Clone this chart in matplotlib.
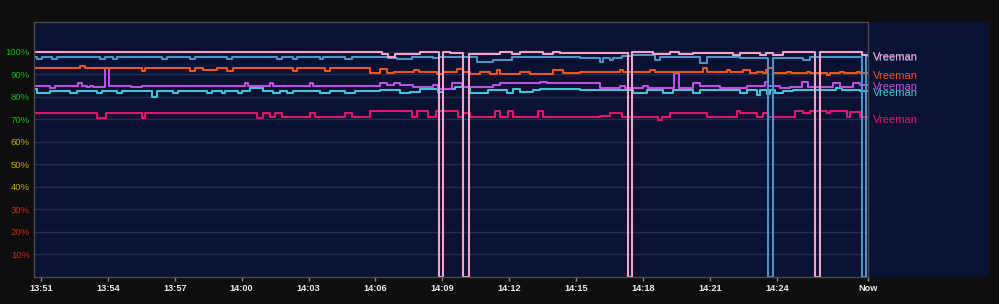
import numpy as np
import matplotlib.pyplot as plt

# x values are minutes after 13:51, y values are percent
now_minute = 37.09
start_minute = -0.31

tick_minutes = [0, 3, 6, 9, 12, 15, 18, 21, 24, 27, 30, 33, now_minute]
tick_labels = ['13:51', '13:54', '13:57', '14:00', '14:03', '14:06', '14:09',
               '14:12', '14:15', '14:18', '14:21', '14:24', 'Now']
pct_ticks = [10, 20, 30, 40, 50, 60, 70, 80, 90, 100]
pct_tick_colors = ['#cc2a0c', '#cc2a0c', '#cc2a0c', '#bfae00', '#bfae00', '#bfae00',
                   '#12b812', '#12b812', '#12b812', '#12b812']

# series as step change points (time, value)
pink_t = [-0.31, 15.29, 15.56, 15.87, 17.00, 17.85, 18.03, 18.34, 18.92, 19.19, 20.58,
          21.12, 21.48, 22.51, 22.96, 23.27, 26.32, 26.50, 27.44, 28.21, 28.61, 29.24,
          31.03, 31.35, 32.24, 32.51, 32.83, 33.27, 34.71, 34.93, 36.82]
pink_v = [100, 99.2, 97.6, 99.2, 100, 0, 100, 99.4, 0, 99.2, 100,
          99.2, 100, 99.2, 100, 99.4, 0, 99.8, 99.2, 100, 99.2, 99.4,
          98.6, 99.4, 98.8, 99.4, 98.8, 99.8, 0, 99.8, 98.8]

blue_t = [-0.31, -0.18, 0.04, 0.49, 0.72, 2.65, 2.87, 3.23, 3.41, 5.43, 5.65, 6.68, 6.91,
          8.34, 8.57, 10.58, 10.81, 11.30, 11.48, 12.51, 12.65, 13.63, 13.95, 15.56, 15.96,
          16.64, 17.58, 17.85, 19.24, 19.55, 20.27, 21.12, 24.17, 25.07, 25.20, 25.52, 25.65,
          26.05, 26.50, 27.53, 27.76, 29.55, 29.87, 31.35, 32.60, 32.83, 34.17, 34.48, 35.83,
          36.82, 37.00]
blue_v = [97.9, 96.7, 97.9, 96.7, 97.9, 96.7, 97.9, 96.7, 97.9, 96.7, 97.9, 96.7, 97.9,
          96.7, 97.9, 96.7, 97.9, 96.7, 97.9, 96.7, 97.9, 96.7, 97.9, 97.4, 96.7,
          97.9, 97.2, 97.9, 97.6, 95.7, 96.6, 97.9, 97.4, 95.7, 97.1, 96.4, 97.1,
          98.3, 98.6, 96.4, 97.9, 95.1, 97.9, 97.4, 0, 97.2, 96.4, 97.6, 97.9,
          0, 98.3]

orange_t = [-0.31, 1.75, 1.97, 4.53, 4.66, 6.68, 6.91, 7.26, 7.89, 8.34, 8.61, 11.30, 11.48,
            12.74, 12.96, 14.75, 15.20, 15.52, 15.82, 16.72, 16.95, 17.78, 18.03, 18.65, 18.92,
            19.24, 19.69, 20.13, 20.45, 20.58, 21.48, 21.93, 22.96, 23.40, 24.17, 25.96, 26.10,
            27.31, 27.53, 29.69, 29.87, 30.76, 30.90, 31.48, 31.79, 32.11, 32.38, 32.51, 32.60,
            32.83, 33.45, 33.65, 34.35, 34.50, 35.25, 35.38, 35.83, 36.00, 36.60, 36.73]
orange_v = [92.9, 93.9, 92.9, 91.7, 92.9, 91.7, 92.9, 91.9, 92.9, 91.7, 92.9, 91.7, 92.9,
            91.7, 92.9, 90.5, 92.3, 90.5, 91.2, 92.0, 91.2, 90.2, 91.2, 92.3, 91.2,
            90.2, 91.2, 90.2, 92.0, 90.2, 91.2, 90.2, 91.9, 90.5, 91.0, 92.0, 91.0,
            92.0, 91.0, 93.0, 91.0, 92.0, 91.0, 92.0, 90.6, 91.3, 90.6, 91.9, 92.8,
            90.5, 91.2, 90.5, 91.2, 90.5, 89.6, 90.5, 91.2, 90.5, 91.2, 90.5]

purple_t = [-0.31, 0.40, 0.62, 1.66, 1.84, 2.06, 2.20, 2.33, 2.87, 3.05, 4.03, 4.53, 9.15,
            9.28, 10.27, 10.40, 12.06, 12.20, 15.20, 15.52, 15.82, 16.10, 16.68, 17.58, 17.80,
            18.43, 18.88, 19.38, 20.27, 20.58, 21.48, 22.38, 22.69, 25.07, 25.96, 26.19, 27.00,
            27.22, 28.39, 28.61, 29.24, 29.55, 30.45, 31.66, 32.47, 32.60, 33.14, 33.59, 34.13,
            34.39, 35.52, 35.83, 36.41, 36.73]
purple_v = [84.9, 83.9, 84.9, 86.1, 84.9, 84.3, 84.9, 84.3, 92.7, 84.9, 84.3, 84.9, 86.1,
            84.9, 86.1, 84.9, 86.1, 84.9, 86.4, 85.3, 86.4, 85.3, 84.3, 85.3, 83.4,
            86.4, 84.6, 84.3, 85.3, 86.1, 86.4, 86.8, 86.1, 83.9, 84.9, 83.9, 84.9,
            83.9, 90.5, 83.9, 86.1, 84.9, 83.9, 84.9, 86.8, 84.9, 83.9, 84.6, 86.8,
            84.6, 86.1, 84.6, 86.1, 85.5]

cyan_t = [-0.31, -0.18, 0.40, 1.30, 1.61, 2.51, 2.74, 3.41, 3.63, 4.98, 5.20, 5.92, 6.14,
          7.44, 7.67, 8.10, 8.25, 8.83, 9.01, 9.37, 9.96, 10.40, 10.72, 11.03, 11.30, 12.51,
          12.96, 13.63, 14.08, 15.20, 16.10, 16.55, 17.00, 17.80, 18.03, 18.56, 19.24, 20.04,
          20.90, 21.17, 21.48, 22.06, 22.38, 24.17, 26.55, 27.17, 27.89, 28.34, 29.24, 29.55,
          31.35, 31.66, 32.11, 32.24, 32.55, 32.69, 32.91, 33.27, 33.72, 35.65, 35.92, 36.73]
cyan_v = [83.4, 81.6, 82.8, 81.6, 82.8, 81.6, 82.8, 81.6, 82.8, 79.9, 82.8, 81.6, 82.8,
          81.6, 82.8, 81.6, 82.8, 81.6, 82.8, 83.9, 82.8, 81.6, 82.8, 81.6, 82.8, 81.6,
          82.8, 81.9, 82.8, 83.1, 81.6, 82.4, 83.4, 82.4, 83.4, 84.3, 81.9, 83.1,
          81.6, 83.4, 82.4, 83.1, 83.4, 83.1, 81.6, 83.1, 81.6, 83.1, 81.6, 83.1,
          81.6, 83.1, 80.9, 83.1, 81.3, 83.1, 81.6, 82.8, 83.1, 83.9, 83.1, 82.8]

crimson_t = [-0.31, 2.51, 2.91, 4.53, 4.66, 9.69, 9.96, 10.27, 10.49, 10.81, 12.06, 12.29,
             13.63, 13.95, 14.75, 16.64, 16.86, 17.35, 17.71, 18.70, 18.92, 19.24, 20.36,
             20.58, 20.95, 21.17, 22.29, 22.51, 25.07, 25.52, 26.05, 27.67, 27.85, 28.21,
             29.87, 31.21, 31.35, 32.11, 32.38, 32.60, 33.81, 34.17, 34.48, 35.25, 35.38,
             36.14, 36.28, 36.73]
crimson_v = [73.0, 70.7, 73.0, 70.7, 73.0, 70.7, 73.0, 71.0, 72.8, 71.0, 72.8, 71.0,
             72.8, 71.0, 73.8, 71.0, 73.8, 71.0, 73.8, 71.0, 72.8, 71.0, 73.8,
             71.0, 73.8, 71.0, 73.8, 71.0, 71.6, 73.0, 71.0, 69.8, 71.0, 73.0,
             71.0, 73.9, 73.0, 71.0, 72.8, 71.0, 73.8, 72.8, 73.8, 72.8, 73.8,
             71.0, 73.5, 71.0]

series = [
    ('Vreeman', crimson_t, crimson_v, '#e2156a'),
    ('Vreeman', cyan_t, cyan_v, '#45c3d6'),
    ('Vreeman', purple_t, purple_v, '#bf4fe0'),
    ('Vreeman', orange_t, orange_v, '#ea5620'),
    ('Vreeman', blue_t, blue_v, '#4f93c6'),
    ('Vreeman', pink_t, pink_v, '#f6a3c6'),
]

navy = '#0b1132'
fig = plt.figure(figsize=(9.99, 3.04), dpi=100, facecolor='#0e0e0e')
bottom = 27 / 304
height = 255 / 304

# side panel behind the labels
panel = fig.add_axes([868 / 999, bottom, 121 / 999, height])
panel.set_facecolor(navy)
panel.set_xticks([])
panel.set_yticks([])
for s in panel.spines.values():
    s.set_visible(False)

ax = fig.add_axes([34 / 999, bottom, 834 / 999, height])
ax.set_facecolor(navy)

for label, t, v, color in series:
    ax.plot(t + [now_minute], v + [v[-1]], drawstyle='steps-post', color=color, lw=1.5)
    ax.annotate(label, xy=(1, v[-1]), xycoords=('axes fraction', 'data'),
                xytext=(3.8, -1.8), textcoords='offset points', color=color,
                fontsize=8, va='center', family='Liberation Sans', annotation_clip=False)

ax.set_xlim(start_minute, now_minute)
ax.set_ylim(0, 113.3)

ax.set_yticks(pct_ticks)
ax.set_yticklabels([f'{p}%' for p in pct_ticks], family='Liberation Sans', fontsize=6.8)
for lab, c in zip(ax.get_yticklabels(), pct_tick_colors):
    lab.set_color(c)
ax.tick_params(axis='y', length=0, pad=3)
ax.yaxis.grid(True, color='#262c50', lw=1)
ax.set_axisbelow(True)

ax.set_xticks(tick_minutes)
ax.set_xticklabels(tick_labels, family='Liberation Sans', fontsize=6.6,
                   fontweight='bold', color='#ececec')
ax.tick_params(axis='x', length=3, width=1, color='#8a8a8a', pad=2)

for s in ax.spines.values():
    s.set_color('#4a4a4a')
    s.set_linewidth(1)

fig.savefig('out.png', dpi=100, facecolor=fig.get_facecolor())
